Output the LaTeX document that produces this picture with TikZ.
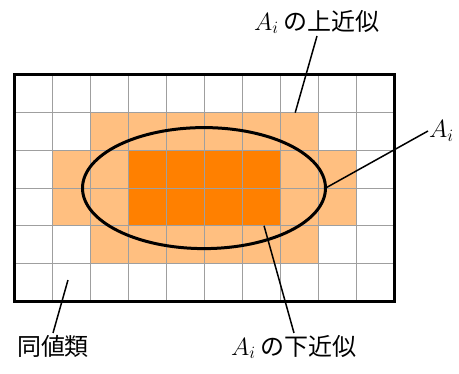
\documentclass[tikz,border=0pt]{standalone}
\usepackage{fontspec}
\newfontfamily\jp{Noto Sans CJK JP}
\usetikzlibrary{shapes.geometric}
\definecolor{lightor}{HTML}{FFBF80}
\definecolor{darkor}{HTML}{FF8000}
\tikzset{
  gridline/.style={draw=gray!75, line width=0.9pt},
  frame/.style={draw=black, line width=3pt},
  leader/.style={draw=black, line width=1.5pt},
  lab/.style={font=\jp\fontsize{24}{28}\selectfont, inner sep=2pt},
}
\begin{document}
\begin{tikzpicture}[x=1pt,y=-1pt]
\useasboundingbox (0,0) rectangle (459,374);
\begin{scope}[shift={(14,75)}, x=38pt, y=-37.7pt]
  \fill[lightor] (2,1) rectangle (8,2);
  \fill[lightor] (1,2) rectangle (9,4);
  \fill[lightor] (2,4) rectangle (8,5);
  \fill[darkor] (3,2) rectangle (7,4);
  \foreach \i in {1,...,9} \draw[gridline] (\i,0) -- (\i,6);
  \foreach \j in {1,...,5} \draw[gridline] (0,\j) -- (10,\j);
  \draw[frame] (0,0) rectangle (10,6);
  \node[ellipse, draw=black, line width=3pt, minimum width=243pt, minimum height=121pt, inner sep=0pt, outer sep=0pt] (E) at (5,3) {};
  \coordinate (upP) at (7.4,1);
  \coordinate (lowP) at (6.58,4);
  \coordinate (eqP) at (1.42,5.44);
\end{scope}
\node[lab, anchor=south] (up) at (317,36) {$A_i$ の上近似};
\node[lab, anchor=west, inner sep=1pt] (ai) at (428,131) {$A_i$};
\node[lab, anchor=north] (eq) at (53,333) {同値類};
\node[lab, anchor=north] (low) at (294,333) {$A_i$ の下近似};
\draw[leader] (upP) -- (up.south);
\draw[leader] (E.east) -- (ai.west);
\draw[leader] (eqP) -- (eq.north);
\draw[leader] (lowP) -- (low.north);
\end{tikzpicture}
\end{document}
